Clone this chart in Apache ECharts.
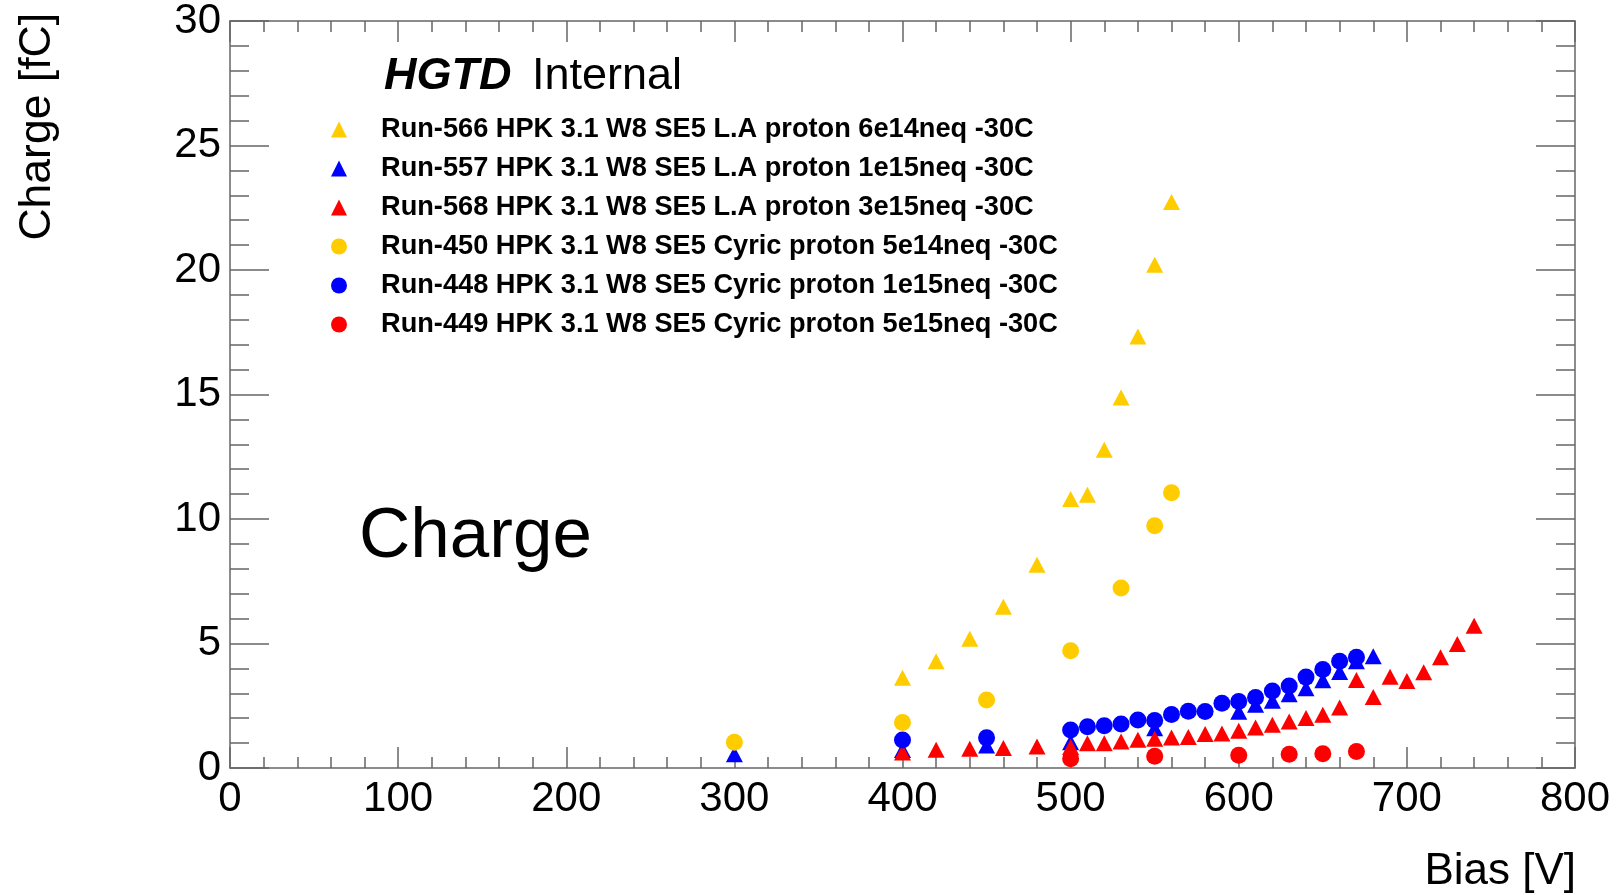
<!DOCTYPE html>
<html>
<head>
<meta charset="utf-8">
<script src="https://cdn.jsdelivr.net/npm/echarts@6/dist/echarts.min.js"></script>
<style>
html,body{margin:0;padding:0;background:#fff;}
#chart{width:1617px;height:895px;}
</style>
</head>
<body>
<div id="chart"></div>
<script>
// ---- data (Bias [V], Charge [fC]) ----
const run566 = [[400,3.62],[420,4.29],[440,5.19],[460,6.48],[480,8.16],[500,10.8],[510,10.97],[520,12.78],[530,14.88],[540,17.33],[550,20.21],[560,22.73]];
const run557 = [[300,0.55],[400,0.72],[450,0.9],[500,1.03],[550,1.6],[600,2.26],[610,2.54],[620,2.7],[630,2.96],[640,3.2],[650,3.52],[660,3.86],[670,4.29],[680,4.49]];
const run568 = [[400,0.62],[420,0.73],[440,0.77],[460,0.8],[480,0.86],[500,0.84],[510,0.99],[520,0.99],[530,1.06],[540,1.13],[550,1.17],[560,1.22],[570,1.25],[580,1.37],[590,1.39],[600,1.5],[610,1.63],[620,1.74],[630,1.87],[640,2.01],[650,2.14],[660,2.43],[670,3.53],[680,2.85],[690,3.66],[700,3.49],[710,3.85],[720,4.45],[730,4.98],[740,5.71]];
const run450 = [[300,1.03],[400,1.83],[450,2.73],[500,4.71],[530,7.23],[550,9.73],[560,11.05]];
const run448 = [[400,1.12],[450,1.21],[500,1.53],[510,1.66],[520,1.7],[530,1.77],[540,1.93],[550,1.91],[560,2.15],[570,2.28],[580,2.27],[590,2.6],[600,2.67],[610,2.83],[620,3.09],[630,3.29],[640,3.65],[650,3.96],[660,4.29],[670,4.45]];
const run449 = [[500,0.37],[550,0.47],[600,0.51],[630,0.55],[650,0.57],[670,0.66]];

const seriesNames = [
  'Run-566 HPK 3.1 W8 SE5 L.A proton 6e14neq -30C',
  'Run-557 HPK 3.1 W8 SE5 L.A proton 1e15neq -30C',
  'Run-568 HPK 3.1 W8 SE5 L.A proton 3e15neq -30C',
  'Run-450 HPK 3.1 W8 SE5 Cyric proton 5e14neq -30C',
  'Run-448 HPK 3.1 W8 SE5 Cyric proton 1e15neq -30C',
  'Run-449 HPK 3.1 W8 SE5 Cyric proton 5e15neq -30C'
];
const seriesData = [run566, run557, run568, run450, run448, run449];
const seriesSymbols = ['triangle','triangle','triangle','circle','circle','circle'];
const seriesColors = ['#FFCC00','#0000FF','#FF0000','#FFCC00','#0000FF','#FF0000'];

const xTitle = 'Bias [V]';
const yTitle = 'Charge [fC]';

const FONT = '"Liberation Sans", Arial, Helvetica, sans-serif';
const axisColor = '#666';

const chart = echarts.init(document.getElementById('chart'), null, {renderer:'canvas'});

function xAx(pos, showLabel){
  return {
    type:'value', min:0, max:800, interval:100, position:pos,
    axisLine:{show:true, onZero:false, lineStyle:{color:axisColor, width:1.5}},
    axisTick:{show:true, inside:true, length:21, lineStyle:{color:axisColor, width:1.5}},
    minorTick:{show:true, splitNumber:5, length:11, lineStyle:{color:axisColor, width:1.5}},
    splitLine:{show:false}, minorSplitLine:{show:false},
    axisLabel:{show:showLabel, fontSize:42, fontFamily:FONT, color:'#000', margin:10}
  };
}
function yAx(pos, showLabel){
  return {
    type:'value', min:0, max:30, interval:5, position:pos,
    axisLine:{show:true, onZero:false, lineStyle:{color:axisColor, width:1.5}},
    axisTick:{show:true, inside:true, length:39, lineStyle:{color:axisColor, width:1.5}},
    minorTick:{show:true, splitNumber:5, length:19, lineStyle:{color:axisColor, width:1.5}},
    splitLine:{show:false}, minorSplitLine:{show:false},
    axisLabel:{show:showLabel, fontSize:42, fontFamily:FONT, color:'#000', margin:9}
  };
}

const series = seriesNames.map((name, i) => ({
  name: name,
  type: 'scatter',
  data: seriesData[i],
  symbol: seriesSymbols[i],
  symbolSize: seriesSymbols[i] === 'triangle' ? [17,16] : 17,
  itemStyle: {color: seriesColors[i], opacity: 1},
  xAxisIndex: 0, yAxisIndex: 0,
  silent: true
}));

const option = {
  animation: false,
  backgroundColor: '#fff',
  grid: {left:230, right:42, top:14, bottom:127, containLabel:false},
  xAxis: [xAx('bottom', true), xAx('top', false)],
  yAxis: [yAx('left', true), yAx('right', false)],
  legend: {
    orient:'vertical', left:331, top:116, padding:0, itemGap:12,
    itemWidth:16, itemHeight:16, selectedMode:false,
    textStyle:{fontFamily:FONT, fontSize:27.2, fontWeight:'bold', color:'#000', padding:[0,0,0,29], lineHeight:27},
    data: seriesNames.map((n,i)=>({name:n, icon:seriesSymbols[i], itemStyle:{color:seriesColors[i]}}))
  },
  graphic: [
    {type:'text', x:38, y:13, rotation:Math.PI/2,
     style:{text:yTitle, fontFamily:FONT, fontSize:44.5, fill:'#000', align:'right', verticalAlign:'middle'}},
    {type:'text', x:1576, y:872,
     style:{text:xTitle, fontFamily:FONT, fontSize:44, fill:'#000', align:'right', verticalAlign:'middle'}},
    {type:'text', x:384, y:77,
     style:{text:'HGTD', fontFamily:FONT, fontSize:45, fontWeight:'bold', fontStyle:'italic', fill:'#000', align:'left', verticalAlign:'middle'}},
    {type:'text', x:532, y:77,
     style:{text:'Internal', fontFamily:FONT, fontSize:45, fill:'#000', align:'left', verticalAlign:'middle'}},
    {type:'text', x:359, y:537,
     style:{text:'Charge', fontFamily:FONT, fontSize:71, fill:'#000', align:'left', verticalAlign:'middle'}}
  ],
  series: series
};
chart.setOption(option);
</script>
</body>
</html>
